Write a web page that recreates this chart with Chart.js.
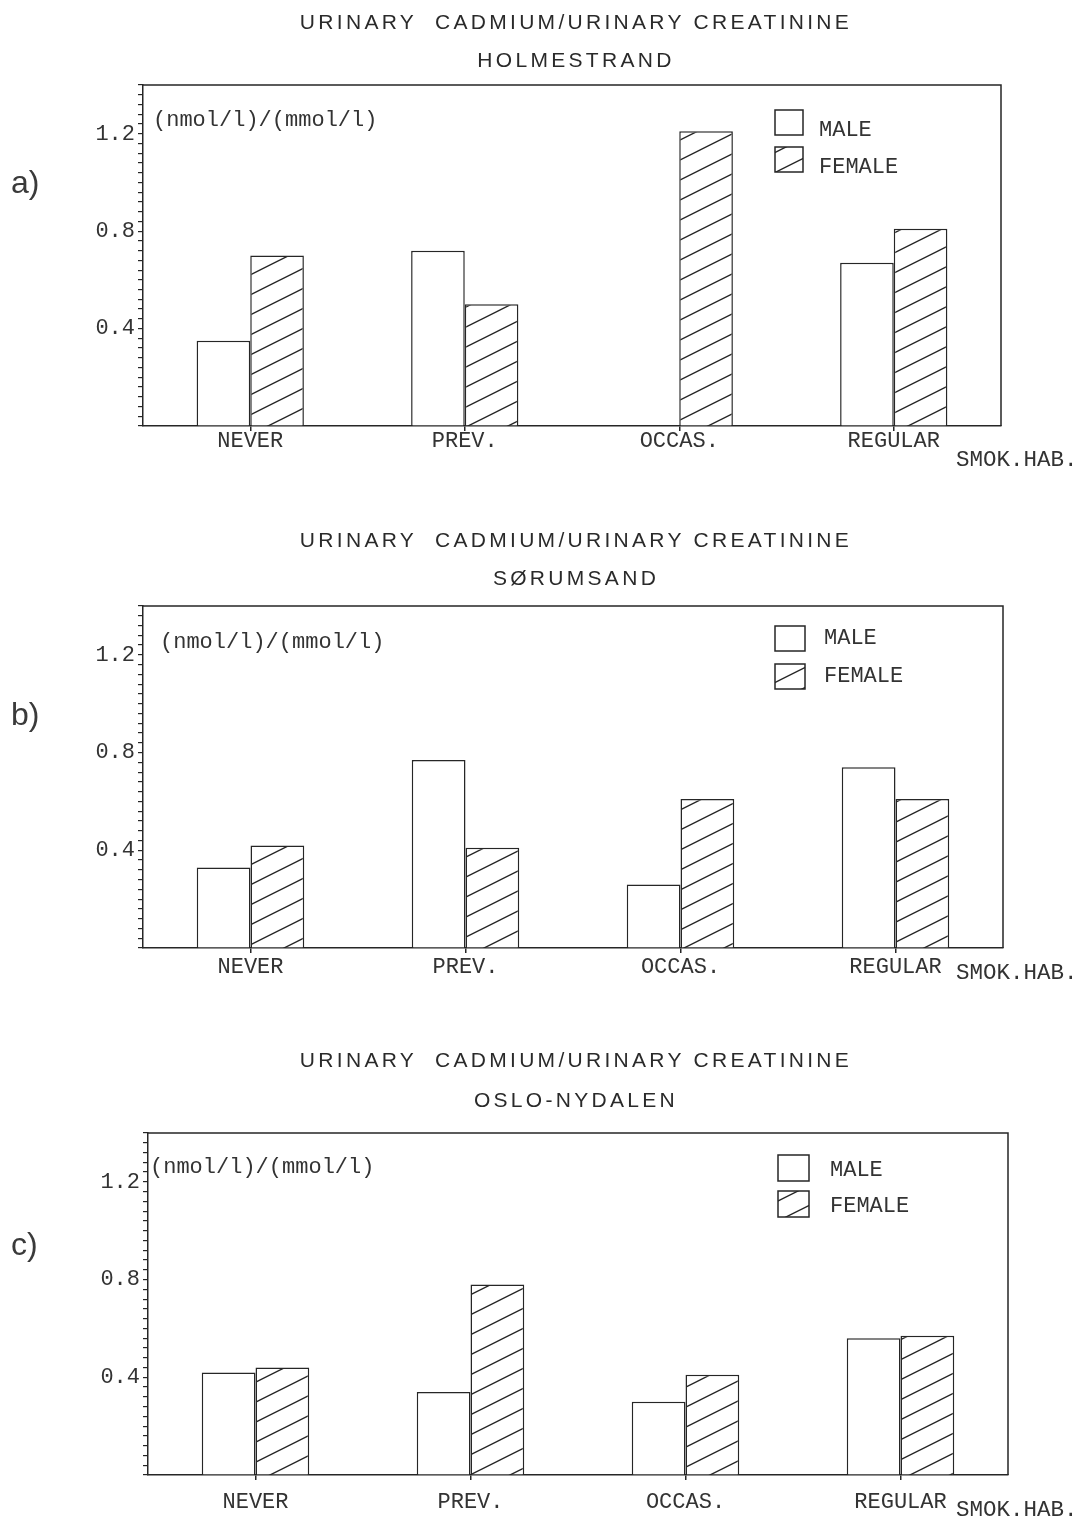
<!DOCTYPE html>
<html>
<head>
<meta charset="utf-8">
<script src="https://cdn.jsdelivr.net/npm/chart.js@4.4.1/dist/chart.umd.min.js"></script>
<style>
  html, body { margin: 0; padding: 0; background: #ffffff; }
  #page { position: relative; width: 1086px; height: 1520px; overflow: hidden; background: #fff; }
  #page canvas { position: absolute; left: 0; }
  .ttl { position: absolute; left: 576px; transform: translateX(-50%); white-space: pre;
         font-family: "Liberation Sans", Arial, sans-serif; font-size: 21px; line-height: 24px;
         letter-spacing: 3.3px; color: #2a2a2a; }
  .lbl { position: absolute; left: 11px; font-family: "Liberation Sans", Arial, sans-serif;
         font-size: 32px; line-height: 36px; color: #3a3a3a; }
</style>
</head>
<body>
<div id="page">
  <canvas id="cA" width="1086" height="490" style="top:0px"></canvas>
  <canvas id="cB" width="1086" height="520" style="top:490px"></canvas>
  <canvas id="cC" width="1086" height="510" style="top:1010px"></canvas>

  <div class="ttl" style="top:10px">URINARY  CADMIUM/URINARY CREATININE</div>
  <div class="ttl" style="top:48px">HOLMESTRAND</div>
  <div class="ttl" style="top:528px">URINARY  CADMIUM/URINARY CREATININE</div>
  <div class="ttl" style="top:566px">SØRUMSAND</div>
  <div class="ttl" style="top:1048px">URINARY  CADMIUM/URINARY CREATININE</div>
  <div class="ttl" style="top:1088px">OSLO-NYDALEN</div>

  <div class="lbl" style="top:164px">a)</div>
  <div class="lbl" style="top:696px">b)</div>
  <div class="lbl" style="top:1226px">c)</div>
</div>

<script>
// ---------------- DATA ----------------
const categories = ['NEVER', 'PREV.', 'OCCAS.', 'REGULAR'];
const seriesNames = ['MALE', 'FEMALE'];

const holmestrandMale   = [0.35, 0.72, null, 0.67];
const holmestrandFemale = [0.70, 0.50, 1.21, 0.81];

const sorumsandMale     = [0.33, 0.77, 0.26, 0.74];
const sorumsandFemale   = [0.42, 0.41, 0.61, 0.61];

const osloMale          = [0.42, 0.34, 0.30, 0.56];
const osloFemale        = [0.44, 0.78, 0.41, 0.57];

const yTickValues = [0.4, 0.8, 1.2];
const yTickLabels = ['0.4', '0.8', '1.2'];
const yMinorStep = 0.04;
const yMax = 1.4;

const unitLabel = '(nmol/l)/(mmol/l)';
const xAxisName = 'SMOK.HAB.';

// ---------------- STYLE ----------------
const INK = '#262626';
const TXT = '#333333';
const MONO = '"Liberation Mono", "DejaVu Sans Mono", monospace';

function makeHatch() {
  const w = 40, h = 20;
  const c = document.createElement('canvas');
  c.width = w; c.height = h;
  const g = c.getContext('2d');
  g.fillStyle = '#ffffff';
  g.fillRect(0, 0, w, h);
  g.strokeStyle = INK;
  g.lineWidth = 1.4;
  for (let k = -1; k <= 1; k++) {
    g.beginPath();
    const x0 = -6, x1 = w + 6;
    g.moveTo(x0, h + h * k - (h / w) * x0);
    g.lineTo(x1, h + h * k - (h / w) * x1);
    g.stroke();
  }
  return g.createPattern(c, 'repeat');
}
const hatch = makeHatch();

const decor = {
  id: 'decor',
  afterDatasetsDraw(chart, args, o) {
    const { ctx, chartArea: ca } = chart;
    ctx.save();
    // frame (top and right sides)
    ctx.strokeStyle = INK;
    ctx.lineWidth = 1.5;
    ctx.beginPath();
    ctx.moveTo(ca.left, ca.top);
    ctx.lineTo(ca.right, ca.top);
    ctx.lineTo(ca.right, ca.bottom);
    ctx.stroke();
    // unit text
    ctx.font = '22px ' + MONO;
    ctx.fillStyle = TXT;
    ctx.textAlign = 'left';
    ctx.textBaseline = 'middle';
    ctx.fillText(unitLabel, ca.left + o.unitDx, ca.top + o.unitDy);
    // legend
    chart.data.datasets.forEach((ds, i) => {
      const bx = ca.right + o.legDx;
      const by = ca.top + o.legDy + i * o.legStep;
      ctx.fillStyle = ds.backgroundColor;
      ctx.fillRect(bx, by, o.boxW, o.boxH);
      ctx.strokeStyle = INK;
      ctx.lineWidth = 1.5;
      ctx.strokeRect(bx, by, o.boxW, o.boxH);
      ctx.fillStyle = TXT;
      ctx.fillText(ds.label, bx + o.legTextDx, by + o.legTextDy);
    });
    // axis name
    ctx.font = '22.5px ' + MONO;
    ctx.fillText(xAxisName, o.axX, ca.bottom + o.axDy);
    ctx.restore();
  }
};

function buildChart(canvasId, male, female, L) {
  const yLabel = (v) => {
    const i = yTickValues.findIndex(t => Math.abs(t - v) < 1e-6);
    return i >= 0 ? yTickLabels[i] : '';
  };
  return new Chart(document.getElementById(canvasId), {
    type: 'bar',
    data: {
      labels: categories,
      datasets: [
        { label: seriesNames[0], data: male, backgroundColor: '#ffffff',
          borderColor: INK, borderWidth: 1.5, categoryPercentage: 0.5, barPercentage: 1.0 },
        { label: seriesNames[1], data: female, backgroundColor: hatch,
          borderColor: INK, borderWidth: 1.5, categoryPercentage: 0.5, barPercentage: 1.0 }
      ]
    },
    options: {
      responsive: false,
      animation: false,
      devicePixelRatio: 1,
      layout: { padding: { top: L.top, left: L.left - 80, right: 1086 - L.right, bottom: 4 } },
      plugins: { legend: { display: false }, title: { display: false }, tooltip: { enabled: false }, decor: L.decor },
      scales: {
        x: {
          offset: true,
          grid: { drawOnChartArea: false, offset: false, tickLength: 5, color: INK, lineWidth: 1.5 },
          border: { color: INK, width: 1.5 },
          ticks: { font: { family: MONO, size: 22, lineHeight: 1 }, color: TXT, padding: L.xPad,
                   autoSkip: false, maxRotation: 0 },
          afterFit: s => { s.height = L.xH; }
        },
        y: {
          min: 0, max: yMax,
          grid: { drawOnChartArea: false, tickLength: 5, color: INK, lineWidth: 1.2 },
          border: { color: INK, width: 1.5 },
          ticks: { stepSize: yMinorStep, maxTicksLimit: 100, autoSkip: false, callback: yLabel,
                   font: { family: MONO, size: 22 }, color: TXT, padding: 3 },
          afterFit: s => { s.width = 80; }
        }
      }
    },
    plugins: [decor]
  });
}

buildChart('cA', holmestrandMale, holmestrandFemale, {
  top: 85, left: 143, right: 1001, xH: 60, xPad: -1,
  decor: { unitDx: 10, unitDy: 35, legDx: -226, legDy: 25, legStep: 37, boxW: 28, boxH: 25,
           legTextDx: 44, legTextDy: 20, axX: 956, axDy: 34 }
});
buildChart('cB', sorumsandMale, sorumsandFemale, {
  top: 116, left: 143, right: 1003, xH: 58, xPad: 3,
  decor: { unitDx: 17, unitDy: 36, legDx: -228, legDy: 20, legStep: 38, boxW: 30, boxH: 25,
           legTextDx: 49, legTextDy: 12, axX: 956, axDy: 25 }
});
buildChart('cC', osloMale, osloFemale, {
  top: 123, left: 148, right: 1008, xH: 41, xPad: 11,
  decor: { unitDx: 2, unitDy: 34, legDx: -230, legDy: 22, legStep: 36, boxW: 31, boxH: 26,
           legTextDx: 52, legTextDy: 15, axX: 956, axDy: 35 }
});
</script>
</body>
</html>
